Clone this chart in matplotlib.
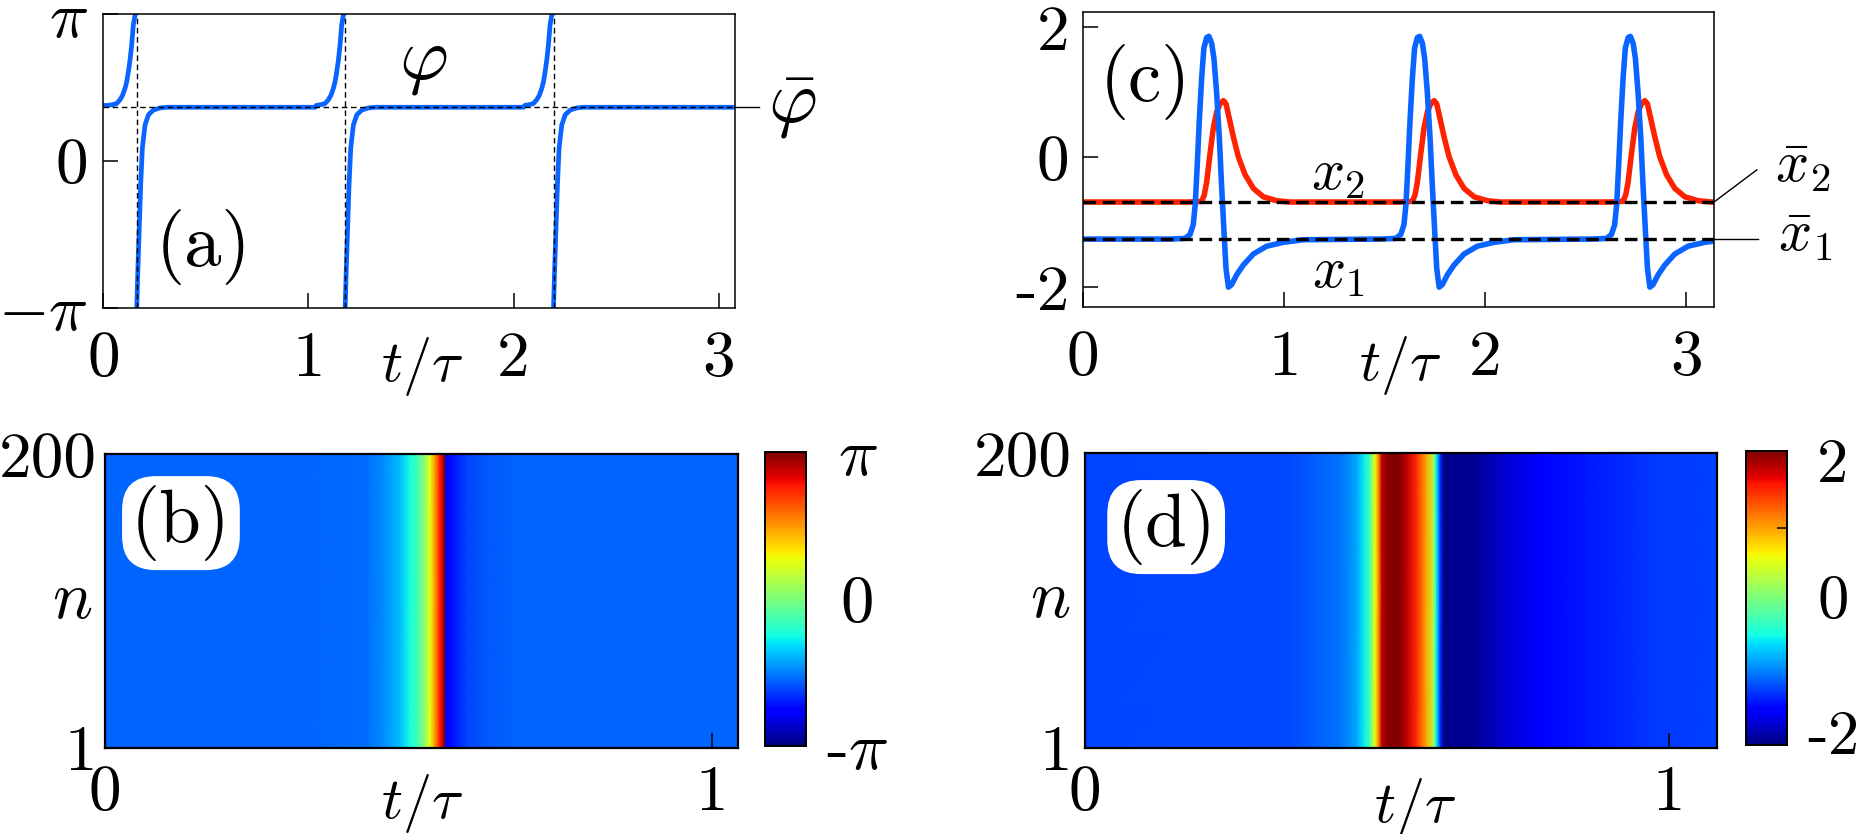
import numpy as np
import matplotlib
matplotlib.use('Agg')
import matplotlib.pyplot as plt
from matplotlib.transforms import blended_transform_factory as blend

plt.rcParams.update({
    'font.family': 'serif',
    'font.serif': ['cmr10'],
    'mathtext.fontset': 'cm',
    'axes.unicode_minus': False,
    'axes.linewidth': 1.1,
})

BLUE = '#0a64ff'
RED = '#ff2200'

# ---- (a) phase: one slip profile, placed at each slip time
phi_slips = [0.163, 1.179, 2.195]
phi_bar = 1.15
phi_pre_dt = [-0.14, -0.114, -0.098, -0.082, -0.069, -0.057, -0.049, -0.041, -0.033, -0.025, -0.017, -0.008, -0.004]
phi_pre = [1.19, 1.21, 1.23, 1.31, 1.41, 1.56, 1.70, 1.91, 2.16, 2.48, 2.91, 3.14, 3.40]
phi_post_dt = [-0.002, 0.0, 0.005, 0.013, 0.019, 0.027, 0.040, 0.057, 0.081, 0.113, 0.146, 0.87]
phi_post = [-3.40, -3.14, -2.37, -1.30, -0.51, 0.27, 0.77, 0.99, 1.09, 1.135, 1.15, 1.15]
phi_head = (0.0, 1.19)
phi_tail = (3.10, 1.15)

# ---- (c) x1, x2: one pulse profile, placed at each blue peak
x_peaks = [0.620, 1.668, 2.716]
x1_bar = -1.26
x2_bar = -0.69
x1_dt = [-0.189, -0.114, -0.089, -0.073, -0.063, -0.053, -0.043, -0.031, -0.020, -0.006, 0.005,
         0.019, 0.030, 0.043, 0.057, 0.068, 0.080, 0.090, 0.102, 0.118, 0.143, 0.176, 0.226,
         0.292, 0.375, 0.475]
x1_val = [-1.26, -1.25, -1.19, -1.04, -0.73, -0.12, 0.55, 1.22, 1.68, 1.84, 1.86,
          1.75, 1.52, 1.01, 0.29, -0.43, -1.14, -1.71, -2.00, -1.96, -1.81, -1.66, -1.49,
          -1.37, -1.31, -1.27]
x2_dt = [-0.10, -0.031, -0.018, -0.006, 0.010, 0.027, 0.044, 0.060, 0.077, 0.090, 0.106, 0.126,
         0.151, 0.185, 0.226, 0.276, 0.342, 0.408]
x2_val = [-0.69, -0.68, -0.58, -0.38, 0.04, 0.45, 0.70, 0.82, 0.87, 0.82, 0.60, 0.32,
          0.01, -0.27, -0.48, -0.61, -0.67, -0.69]

# ---- (b) space-time map of the phase: profile along t (same for every n)
b_t = [0.0, 0.32, 0.431, 0.459, 0.486, 0.503, 0.514, 0.525, 0.536, 0.544, 0.552, 0.558,
       0.5605, 0.5615, 0.566, 0.596, 0.629, 0.679, 1.043]
b_val = [-1.73, -1.72, -1.68, -1.49, -1.18, -0.78, -0.47, 0.0, 0.79, 1.57, 2.36, 2.85,
         3.10, -2.50, -2.40, -1.93, -1.81, -1.73, -1.73]

# ---- (d) space-time map of x1
d_t = [0.0, 0.351, 0.437, 0.465, 0.479, 0.488, 0.496, 0.502, 0.508, 0.520, 0.539, 0.551,
       0.568, 0.585, 0.597, 0.602, 0.608, 0.614, 0.665, 0.722, 0.779, 0.865, 0.980, 1.082]
d_val = [-1.35, -1.33, -1.16, -0.95, -0.62, -0.25, 0.51, 1.05, 1.90, 2.10, 2.10, 1.87,
         1.53, 0.94, 0.19, -0.66, -1.43, -2.15, -2.09, -1.86, -1.68, -1.54, -1.41, -1.37]
n_rows = [1, 200]

TICK = 47
LAB = 42
PAN = 54

fig = plt.figure(figsize=(18.59, 8.34), dpi=100)
ax_a = fig.add_axes([0.0556, 0.6311, 0.3398, 0.3518])
ax_c = fig.add_axes([0.5827, 0.6323, 0.3393, 0.3530])
ax_b = fig.add_axes([0.0565, 0.1031, 0.3403, 0.3525])
cax_b = fig.add_axes([0.4115, 0.1055, 0.0221, 0.3525])
ax_d = fig.add_axes([0.5838, 0.1031, 0.3398, 0.3537])
cax_d = fig.add_axes([0.9392, 0.1067, 0.0221, 0.3525])


def style(ax, xpad, ypad):
    ax.tick_params(direction='in', length=11, width=1.1, labelsize=TICK)
    ax.tick_params(axis='x', pad=xpad)
    ax.tick_params(axis='y', pad=ypad)


# (a)
ta, pa = [phi_head[0]], [phi_head[1]]
for ts in phi_slips:
    ta += [ts + d for d in phi_pre_dt] + [np.nan] + [ts + d for d in phi_post_dt]
    pa += phi_pre + [np.nan] + phi_post
ta.append(phi_tail[0])
pa.append(phi_tail[1])
ax_a.plot(ta, pa, color=BLUE, lw=3.4, zorder=2)
ax_a.axhline(phi_bar, color='k', lw=1.0, ls=(0, (4, 2.6)), zorder=3)
for ts in phi_slips:
    ax_a.axvline(ts, color='k', lw=1.0, ls=(0, (4, 2.6)), zorder=3)
ax_a.set_xlim(0, 3.08)
ax_a.set_ylim(-np.pi, np.pi)
ax_a.set_xticks([0, 1, 2, 3], ['0', '1', '2', '3'])
ax_a.set_yticks([-np.pi, 0, np.pi], [r'$-\pi$', '0', r'$\pi$'])
style(ax_a, 17, 11)
tr = blend(ax_a.transAxes, ax_a.transData)
ax_a.plot([1.0, 1.038], [phi_bar, phi_bar], color='k', lw=1.0, transform=tr, clip_on=False)
ax_a.text(1.09, phi_bar, r'$\bar{\varphi}$', transform=tr, fontsize=PAN, ha='center', va='center')
ax_a.text(0.506, 0.834, r'$\varphi$', transform=ax_a.transAxes, fontsize=PAN, ha='center', va='center')
ax_a.text(0.159, 0.207, '(a)', transform=ax_a.transAxes, fontsize=PAN, ha='center', va='center')
ax_a.text(1.555, -0.20, r'$t/\tau$', transform=blend(ax_a.transData, ax_a.transAxes),
          fontsize=LAB, ha='center', va='center')

# (c)
t1, v1, t2, v2 = [0.0], [x1_bar], [0.0], [x2_bar]
for tp in x_peaks:
    t1 += [tp + d for d in x1_dt]
    v1 += x1_val
    t2 += [tp + d for d in x2_dt]
    v2 += x2_val
t1.append(3.2)
v1.append(-1.27)
t2.append(3.2)
v2.append(x2_bar)
ax_c.plot(t2, v2, color=RED, lw=4.0, zorder=2)
ax_c.plot(t1, v1, color=BLUE, lw=4.0, zorder=2)
ax_c.axhline(x2_bar, color='k', lw=2.4, ls=(0, (3.8, 2.0)), zorder=3)
ax_c.axhline(x1_bar, color='k', lw=2.4, ls=(0, (3.8, 2.0)), zorder=3)
ax_c.set_xlim(0, 3.137)
ax_c.set_ylim(-2.30, 2.23)
ax_c.set_xticks([0, 1, 2, 3], ['0', '1', '2', '3'])
ax_c.set_yticks([-2, 0, 2], ['-2', '0', '2'])
style(ax_c, 17, 10)
tr = blend(ax_c.transAxes, ax_c.transData)
ax_c.plot([1.0, 1.068], [x2_bar, -0.195], color='k', lw=1.0, transform=tr, clip_on=False)
ax_c.plot([1.0, 1.070], [x1_bar, x1_bar], color='k', lw=1.0, transform=tr, clip_on=False)
ax_c.text(1.141, -0.18, r'$\bar{x}_2$', transform=tr, fontsize=42, ha='center', va='center')
ax_c.text(1.145, -1.24, r'$\bar{x}_1$', transform=tr, fontsize=42, ha='center', va='center')
ax_c.text(0.404, 0.447, r'$x_2$', transform=ax_c.transAxes, fontsize=42, ha='center', va='center')
ax_c.text(0.404, 0.114, r'$x_1$', transform=ax_c.transAxes, fontsize=42, ha='center', va='center')
ax_c.text(0.098, 0.763, '(c)', transform=ax_c.transAxes, fontsize=PAN, ha='center', va='center')
ax_c.text(1.576, -0.20, r'$t/\tau$', transform=blend(ax_c.transData, ax_c.transAxes),
          fontsize=LAB, ha='center', va='center')

# (b) and (d) maps
box = dict(boxstyle='round,pad=0.12,rounding_size=0.45', fc='white', ec='none')
for ax, cax, tt, vv, lim, rng, cticks, clabels, lab, lpos, tpos, npos, ypad, cpad, csize in [
        (ax_b, cax_b, b_t, b_val, 1.043, (-np.pi, np.pi), [-np.pi, 0, np.pi],
         [r'-$\pi$', '0', r'$\pi$'], '(b)', (0.120, 0.765), (0.522, -0.19), -0.052, 6, 37, 48),
        (ax_d, cax_d, d_t, d_val, 1.082, (-2.19, 2.13), [-2, 0, 2],
         ['-2', '0', '2'], '(d)', (0.128, 0.749), (0.565, -0.20), -0.056, 10, 33, 45)]:
    T, N = np.meshgrid(tt, n_rows)
    Z = np.tile(vv, (len(n_rows), 1))
    m = ax.pcolormesh(T, N, Z, shading='gouraud', cmap='jet', vmin=rng[0], vmax=rng[1])
    ax.set_xlim(0, lim)
    ax.set_ylim(1, 200)
    ax.set_xticks([0, 1], ['0', '1'])
    ax.set_yticks([1, 200], ['1', '200'])
    style(ax, 12, ypad)
    for s in ax.spines.values():
        s.set_linewidth(1.6)
    ax.text(lpos[0], lpos[1], lab, transform=ax.transAxes, fontsize=PAN,
            ha='center', va='center', bbox=box)
    ax.text(tpos[0], tpos[1], r'$t/\tau$', transform=blend(ax.transData, ax.transAxes),
            fontsize=LAB, ha='center', va='center')
    ax.text(npos, 0.5, r'$n$', transform=ax.transAxes, fontsize=48, ha='center', va='center')
    cb = fig.colorbar(m, cax=cax, ticks=cticks)
    cb.ax.set_yticklabels(clabels)
    cb.outline.set_linewidth(1.4)
    cb.ax.tick_params(direction='in', length=0, labelsize=csize, pad=cpad)
    for lbl in cb.ax.get_yticklabels():
        lbl.set_horizontalalignment('center')
    cb.ax.set_yticks([0] if lab == '(b)' else [0, 1], minor=True)
    cb.ax.tick_params(which='minor', direction='in', length=7, width=1.1)

fig.savefig('out.png', dpi=100)
